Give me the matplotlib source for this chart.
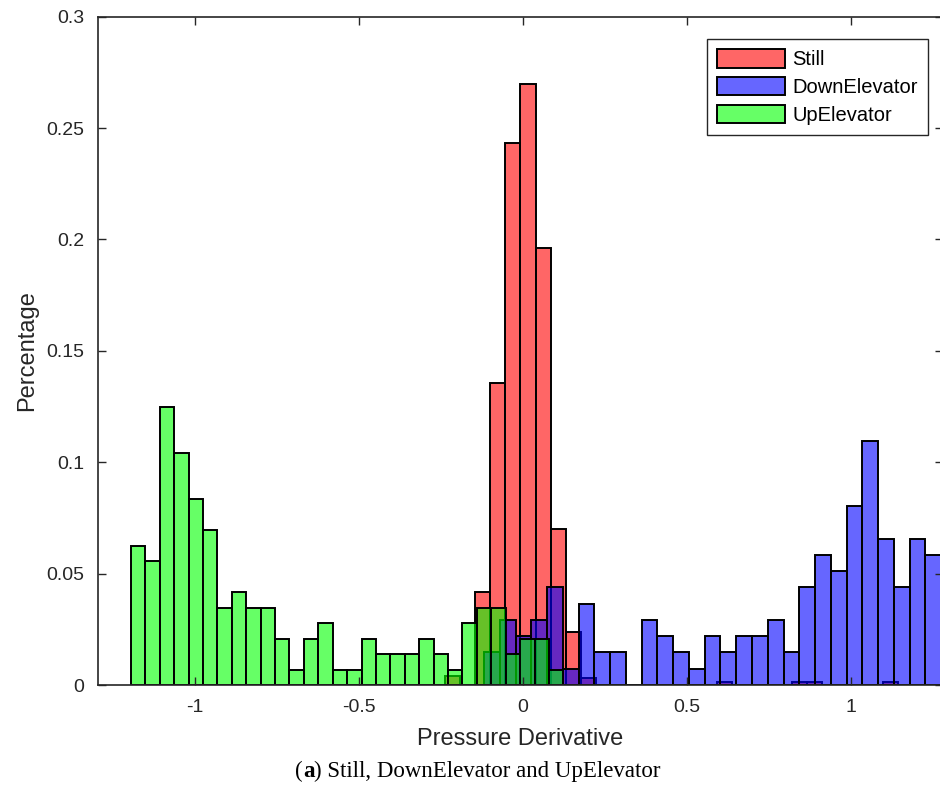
import numpy as np
import matplotlib.pyplot as plt

# bin layout (each histogram has its own bins)
still_start, still_width = -0.2383, 0.0461
down_start, down_width = -0.1188, 0.04811
up_start, up_width = -1.1966, 0.0440

still_vals = [0.004, 0.0, 0.0417, 0.1357, 0.2434, 0.2700, 0.1960, 0.070, 0.024, 0.003,
              0, 0, 0, 0, 0, 0, 0, 0, 0.0015, 0, 0, 0, 0, 0.0015, 0.0015, 0, 0, 0, 0, 0.0015]
down_counts = [2, 4, 3, 4, 6, 1, 5, 2, 2, 0, 4, 3, 2, 1, 3, 2, 3, 3, 4, 2,
               6, 8, 7, 11, 15, 9, 6, 9, 8]
up_counts = [9, 8, 18, 15, 12, 10, 5, 6, 5, 5, 3, 1, 3, 4, 1, 1, 3, 2, 2, 2,
             3, 2, 1, 4, 5, 5, 2, 3, 3, 1]

labels = ['Still', 'DownElevator', 'UpElevator']
colors = [(1, 0, 0, 0.6), (0, 0, 1, 0.6), (0, 1, 0, 0.6)]

x_ticks = [-1, -0.5, 0, 0.5, 1]
x_ticklabels = ['-1', '-0.5', '0', '0.5', '1']
y_ticks = [0, 0.05, 0.1, 0.15, 0.2, 0.25, 0.3]
y_ticklabels = ['0', '0.05', '0.1', '0.15', '0.2', '0.25', '0.3']

plt.rcParams['font.family'] = ['Liberation Sans', 'DejaVu Sans']
dark = '#262626'

fig = plt.figure(figsize=(9.4, 7.89), dpi=100)
ax = fig.add_axes([98 / 940, 1 - 685 / 789, 844.5 / 940, 668.3 / 789])

series = [
    (still_start, still_width, np.array(still_vals)),
    (down_start, down_width, np.array(down_counts) / 137),
    (up_start, up_width, np.array(up_counts) / 144),
]
for (start, width, vals), lab, col in zip(series, labels, colors):
    lefts = start + width * np.arange(len(vals))
    ax.bar(lefts, vals, width=width, align='edge', color=col,
           edgecolor='black', linewidth=1.4, label=lab)

ax.set_xlim(-1.297, 1.2805)
ax.set_ylim(0, 0.3)
ax.set_xticks(x_ticks)
ax.set_xticklabels(x_ticklabels)
ax.set_yticks(y_ticks)
ax.set_yticklabels(y_ticklabels)
ax.tick_params(direction='in', length=6, width=1, colors=dark, labelsize=14,
               top=True, right=True, pad=10)
for sp in ax.spines.values():
    sp.set_color(dark)
    sp.set_linewidth(1.2)

ax.set_xlabel('Pressure Derivative', fontsize=17, color=dark, labelpad=9)
ax.set_ylabel('Percentage', fontsize=17, color=dark, labelpad=6)

leg = ax.legend(loc='upper right', bbox_to_anchor=(0.9825, 0.967), fontsize=14.5,
                handlelength=3.4, handleheight=1.05, handletextpad=0.35,
                labelspacing=0.38, borderpad=0.5, fancybox=False,
                framealpha=1, borderaxespad=0)
leg.get_frame().set_edgecolor(dark)
leg.get_frame().set_linewidth(1.0)

# caption with a bold "a"
renderer = fig.canvas.get_renderer()
parts = [('(', 'normal'), ('a', 'bold'), (') Still, DownElevator and UpElevator', 'normal')]
texts = []
x = 0.0
for s, w in parts:
    t = fig.text(x, 1 - 777 / 789, s, fontsize=16.5, fontweight=w,
                 family='Liberation Serif', color='black', va='baseline')
    texts.append(t)
    bb = t.get_window_extent(renderer)
    x += bb.width / fig.bbox.width
total = x
x0 = 478 / 940 - total / 2
for t in texts:
    px, py = t.get_position()
    t.set_position((px + x0, py))

fig.savefig('out.png', dpi=100)
